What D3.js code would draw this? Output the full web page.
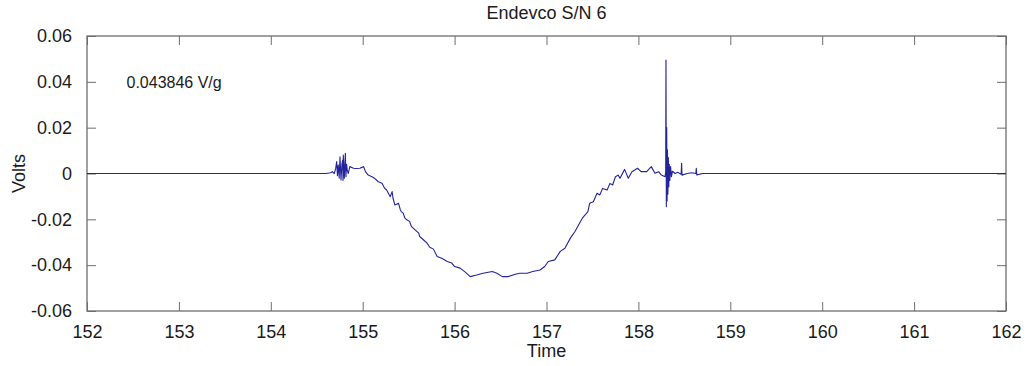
<!DOCTYPE html>
<html>
<head>
    <meta charset="utf-8">
    <script src="https://d3js.org/d3.v7.min.js"></script>
    <style>
        body { margin: 0; background: #fff; }
        text { font-family: "Liberation Sans", Arial, sans-serif; fill: #1a1a1a; }
        .axis path { display: none; }
        .axis line { stroke: #6e6e6e; }
        .axis text { font-size: 18px; fill: #1a1a1a; }
    </style>
</head>

<body></body>

<script>
    // trace (seconds, volts)
    var time = [
        152.00, 154.60, 154.65, 154.67, 154.69, 154.705, 154.717, 154.725, 154.734, 154.744,
        154.753, 154.764, 154.774, 154.782, 154.786, 154.789, 154.80, 154.811, 154.818, 154.825,
        154.832, 154.843, 154.86, 154.90, 154.93, 154.97, 155.01, 155.03, 155.06, 155.10,
        155.13, 155.17, 155.21, 155.24, 155.26, 155.30, 155.32, 155.33, 155.35, 155.39,
        155.41, 155.42, 155.44, 155.46, 155.48, 155.51, 155.53, 155.57, 155.61, 155.62,
        155.66, 155.70, 155.73, 155.77, 155.81, 155.86, 155.92, 155.97, 156.00, 156.06,
        156.11, 156.17, 156.24, 156.31, 156.41, 156.46, 156.52, 156.58, 156.66, 156.71,
        156.79, 156.85, 156.93, 156.98, 157.02, 157.09, 157.15, 157.20, 157.26, 157.31,
        157.34, 157.39, 157.42, 157.45, 157.47, 157.51, 157.55, 157.58, 157.61, 157.66,
        157.69, 157.72, 157.75, 157.78, 157.80, 157.85, 157.89, 157.93, 157.96, 157.99,
        158.03, 158.09, 158.14, 158.18, 158.22, 158.25, 158.29, 158.297, 158.300, 158.304,
        158.308, 158.312, 158.316, 158.321, 158.326, 158.331, 158.336, 158.342, 158.35, 158.36,
        158.37, 158.40, 158.43, 158.465, 158.47, 158.475, 158.53, 158.58, 158.625, 158.63,
        158.635, 158.70, 162.00
    ];
    var volts = [
        0, 0, 0.0003, 0.0008, 0, 0.002, 0.0052, -0.001, 0.0037, -0.002,
        0.0073, -0.0028, 0.004, 0.0059, -0.003, 0.0081, -0.0021, 0.0088, -0.0014, 0.004,
        0.0015, 0, 0.0030, 0.0023, 0.0022, 0.0023, 0.0030, 0.0008, -0.0007, -0.0014,
        -0.0021, -0.0036, -0.0043, -0.0065, -0.0072, -0.0101, -0.0079, -0.0108, -0.0137, -0.0130,
        -0.0159, -0.0166, -0.0173, -0.0195, -0.0202, -0.0209, -0.0231, -0.0246, -0.0260, -0.0275,
        -0.0289, -0.0304, -0.0322, -0.0330, -0.0362, -0.0370, -0.0384, -0.0391, -0.0406, -0.0413,
        -0.0428, -0.0450, -0.0443, -0.0435, -0.0428, -0.0435, -0.0450, -0.0450, -0.0440, -0.0435,
        -0.0435, -0.0428, -0.0421, -0.0406, -0.0384, -0.0377, -0.0340, -0.0326, -0.0282, -0.0253,
        -0.0231, -0.0195, -0.0181, -0.0166, -0.0130, -0.0123, -0.0086, -0.0094, -0.0065, -0.0072,
        -0.0043, -0.0050, -0.0014, -0.0007, -0.0021, 0.0018, -0.0021, 0.0008, 0.0015, 0.0023,
        0.0008, 0.0008, 0.0030, 0.0001, 0.0008, -0.0007, -0.0014, 0.001, 0.0495, -0.0145,
        0.0200, -0.0120, 0.0103, -0.0090, 0.0070, -0.0058, 0.0040, -0.0030, 0.0030, -0.0014,
        0.0010, 0, 0.0005, -0.0003, 0.0045, -0.0007, 0, 0.0003, 0, 0.0023,
        -0.0006, 0, 0
    ];
    var xTicks = [152, 153, 154, 155, 156, 157, 158, 159, 160, 161, 162];
    var yTicks = [-0.06, -0.04, -0.02, 0, 0.02, 0.04, 0.06];
    var yTickLabels = ["-0.06", "-0.04", "-0.02", "0", "0.02", "0.04", "0.06"];
    var sensitivity = "0.043846 V/g";

    var margin = {top: 36, right: 23, bottom: 55, left: 87},
        width = 1029 - margin.left - margin.right,
        height = 366 - margin.top - margin.bottom;

    var svg = d3.select("body").append("svg")
        .attr("width", 1029)
        .attr("height", 366);

    svg.append("rect").attr("width", 1029).attr("height", 366).attr("fill", "#fff");

    var g = svg.append("g")
        .attr("transform", "translate(" + margin.left + "," + margin.top + ")");

    var x = d3.scaleLinear().domain([152, 162]).range([0, width]);
    var y = d3.scaleLinear().domain([-0.06, 0.06]).range([height, 0]);

    // inward ticks on all four sides, labels only bottom / left
    g.append("g").attr("class", "axis")
        .attr("transform", "translate(0," + height + ")")
        .call(d3.axisBottom(x).tickValues(xTicks).tickSizeInner(-9).tickSizeOuter(0)
            .tickPadding(14).tickFormat(d3.format("d")));
    g.append("g").attr("class", "axis")
        .call(d3.axisTop(x).tickValues(xTicks).tickSizeInner(-9).tickSizeOuter(0).tickFormat(""));
    g.append("g").attr("class", "axis")
        .call(d3.axisLeft(y).tickValues(yTicks).tickSizeInner(-9).tickSizeOuter(0)
            .tickPadding(15).tickFormat(function(d, i) { return yTickLabels[i]; }));
    g.append("g").attr("class", "axis")
        .attr("transform", "translate(" + width + ",0)")
        .call(d3.axisRight(y).tickValues(yTicks).tickSizeInner(-9).tickSizeOuter(0).tickFormat(""));

    g.append("rect")
        .attr("width", width).attr("height", height)
        .attr("fill", "none").attr("stroke", "#6e6e6e").attr("stroke-width", 1.3);

    var line = d3.line()
        .x(function(d) { return x(d[0]); })
        .y(function(d) { return y(d[1]); });

    g.append("path")
        .datum(d3.zip(time, volts))
        .attr("fill", "none")
        .attr("stroke", "#23239c")
        .attr("stroke-width", 1.1)
        .attr("stroke-linejoin", "round")
        .attr("d", line);

    g.append("text")
        .attr("x", x(152.43)).attr("y", y(0.0375))
        .attr("font-size", 16)
        .text(sensitivity);

    svg.append("text")
        .attr("x", margin.left + width / 2).attr("y", 19)
        .attr("text-anchor", "middle").attr("font-size", 18)
        .text("Endevco S/N 6");

    svg.append("text")
        .attr("x", margin.left + width / 2).attr("y", 357)
        .attr("text-anchor", "middle").attr("font-size", 18)
        .text("Time");

    svg.append("text")
        .attr("transform", "translate(25," + (margin.top + height / 2) + ") rotate(-90)")
        .attr("text-anchor", "middle").attr("font-size", 18)
        .text("Volts");
</script>
</html>
